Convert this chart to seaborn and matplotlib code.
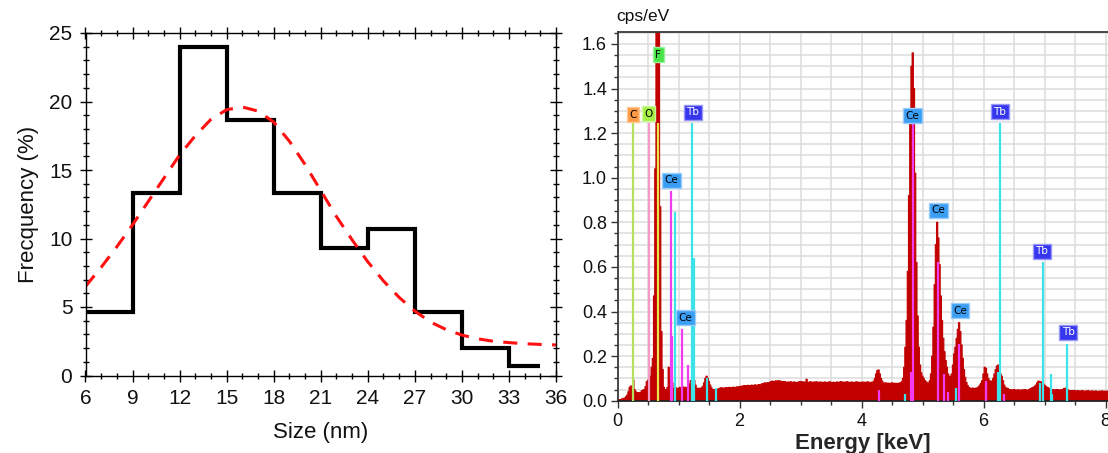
import numpy as np
import pandas as pd
import matplotlib
matplotlib.use("Agg")
import matplotlib.pyplot as plt
import seaborn as sns
from matplotlib.ticker import MultipleLocator, FormatStrFormatter

# ---------------- particle size distribution ----------------
bin_edges = [6, 9, 12, 15, 18, 21, 24, 27, 30, 33, 35]
frequency = [4.67, 13.33, 24.0, 18.67, 13.33, 9.33, 10.67, 4.67, 2.0, 0.67]

# fitted distribution curve, sampled every 1 nm
fit_size = [6, 7, 8, 9, 10, 11, 12, 13, 14, 15, 16, 17, 18, 19, 20, 21,
            22, 23, 24, 25, 26, 27, 28, 29, 30, 31, 32, 33, 34, 35, 36]
fit_freq = [6.5, 7.9, 9.4, 11.0, 12.7, 14.4, 16.1, 17.5, 18.7, 19.4, 19.6,
            19.3, 18.5, 17.1, 15.4, 13.5, 11.6, 9.9, 8.3, 6.9, 5.7, 4.7,
            3.9, 3.35, 2.95, 2.68, 2.5, 2.4, 2.32, 2.27, 2.23]

# ---------------- EDS spectrum (0.02 keV channels from 0 keV) ----------------
channel_width = 0.02
cps = [
    0.003, 0.004, 0.005, 0.006, 0.008, 0.010, 0.012, 0.018, 0.025, 0.040,
    0.060, 0.066, 0.062, 0.093, 0.050, 0.040, 0.035, 0.036, 0.034, 0.038,
    0.045, 0.047, 0.050, 0.063, 0.085, 0.092, 0.100, 0.110, 0.150, 0.190,
    0.470, 1.040, 2.500, 2.800, 1.800, 0.870, 0.310, 0.140, 0.060, 0.050,
    0.050, 0.060, 0.150, 0.110, 0.090, 0.080, 0.056, 0.055, 0.058, 0.052,
    0.055, 0.060, 0.052, 0.058, 0.062, 0.055, 0.060, 0.054, 0.065, 0.075,
    0.090, 0.092, 0.088, 0.090, 0.070, 0.056, 0.054, 0.056, 0.053, 0.058,
    0.065, 0.080, 0.100, 0.110, 0.100, 0.085, 0.070, 0.058, 0.050, 0.048,
    0.050, 0.052, 0.049, 0.054, 0.056, 0.058, 0.055, 0.057, 0.056, 0.059,
    0.057, 0.058, 0.060, 0.056, 0.059, 0.061, 0.058, 0.060, 0.062, 0.060,
    0.063, 0.065, 0.062, 0.066, 0.068, 0.065, 0.067, 0.069, 0.066, 0.068,
    0.070, 0.067, 0.069, 0.071, 0.068, 0.070, 0.072, 0.069, 0.074, 0.076,
    0.078, 0.080, 0.077, 0.081, 0.079, 0.083, 0.086, 0.088, 0.085, 0.087,
    0.089, 0.086, 0.090, 0.088, 0.087, 0.085, 0.084, 0.086, 0.083, 0.082,
    0.084, 0.082, 0.085, 0.081, 0.083, 0.084, 0.082, 0.080, 0.083, 0.085,
    0.083, 0.086, 0.082, 0.084, 0.081, 0.096, 0.083, 0.082, 0.085, 0.083,
    0.081, 0.084, 0.082, 0.085, 0.083, 0.080, 0.084, 0.082, 0.083, 0.081,
    0.084, 0.082, 0.080, 0.083, 0.085, 0.082, 0.081, 0.083, 0.080, 0.082,
    0.084, 0.081, 0.083, 0.086, 0.082, 0.084, 0.081, 0.083, 0.085, 0.082,
    0.083, 0.081, 0.084, 0.082, 0.080, 0.083, 0.085, 0.081, 0.083, 0.080,
    0.082, 0.084, 0.080, 0.083, 0.081, 0.085, 0.082, 0.080, 0.083, 0.081,
    0.088, 0.100, 0.120, 0.135, 0.138, 0.120, 0.100, 0.088, 0.080, 0.078,
    0.080, 0.077, 0.079, 0.076, 0.078, 0.080, 0.077, 0.079, 0.076, 0.078,
    0.077, 0.079, 0.080, 0.085, 0.100, 0.150, 0.240, 0.360, 0.580, 0.920,
    1.250, 1.500, 1.560, 1.400, 1.020, 0.620, 0.380, 0.240, 0.160, 0.125,
    0.110, 0.100, 0.090, 0.085, 0.080, 0.080, 0.090, 0.120, 0.200, 0.330,
    0.520, 0.700, 0.800, 0.730, 0.610, 0.470, 0.360, 0.280, 0.220, 0.180,
    0.150, 0.120, 0.110, 0.110, 0.120, 0.160, 0.210, 0.240, 0.280, 0.320,
    0.350, 0.310, 0.250, 0.190, 0.140, 0.105, 0.082, 0.068, 0.060, 0.056,
    0.055, 0.057, 0.054, 0.056, 0.055, 0.058, 0.062, 0.070, 0.078, 0.090,
    0.120, 0.150, 0.145, 0.120, 0.100, 0.090, 0.086, 0.088, 0.100, 0.120,
    0.140, 0.155, 0.160, 0.140, 0.120, 0.110, 0.090, 0.070, 0.060, 0.056,
    0.055, 0.050, 0.048, 0.049, 0.047, 0.050, 0.048, 0.046, 0.049, 0.047,
    0.048, 0.046, 0.049, 0.047, 0.050, 0.048, 0.046, 0.049, 0.052, 0.055,
    0.058, 0.060, 0.065, 0.070, 0.080, 0.088, 0.086, 0.085, 0.080, 0.075,
    0.070, 0.065, 0.060, 0.058, 0.055, 0.050, 0.048, 0.050, 0.047, 0.049,
    0.048, 0.050, 0.046, 0.049, 0.047, 0.050, 0.055, 0.056, 0.054, 0.050,
    0.046, 0.044, 0.045, 0.043, 0.046, 0.044, 0.042, 0.045, 0.043, 0.044,
    0.042, 0.045, 0.043, 0.041, 0.044, 0.042, 0.045, 0.043, 0.041, 0.044,
    0.043, 0.041, 0.044, 0.042, 0.040, 0.043, 0.041, 0.044, 0.042, 0.043,
    0.041, 0.043, 0.042,
]

# characteristic X-ray line markers: element, energy (keV), marker height (cps/eV)
line_element = ["C", "O", "F",
                "Ce", "Ce", "Ce", "Ce", "Ce", "Ce", "Ce", "Ce", "Ce", "Ce", "Ce", "Ce", "Ce",
                "Tb", "Tb", "Tb", "Tb", "Tb", "Tb", "Tb", "Tb", "Tb", "Tb", "Tb", "Tb", "Tb", "Tb"]
line_energy = [0.26, 0.515, 0.672,
               0.872, 0.893, 1.063, 1.15, 4.29, 4.806, 4.85, 5.254, 5.357, 5.41, 5.603, 6.04, 6.34,
               0.943, 1.221, 1.259, 1.46, 1.615, 4.72, 5.544, 6.24, 6.265, 6.93, 6.97, 7.10, 7.12, 7.37]
line_height = [1.245, 1.245, 1.245,
               0.94, 0.29, 0.322, 0.159, 0.048, 0.13, 1.245, 0.62, 0.12, 0.04, 0.255, 0.09, 0.03,
               0.845, 1.245, 0.64, 0.10, 0.056, 0.03, 0.057, 0.13, 1.245, 0.08, 0.62, 0.12, 0.03, 0.255]

# element tags: element, energy (keV), level (cps/eV)
tag_element = ["C", "O", "F", "Tb", "Ce", "Ce", "Ce", "Ce", "Ce", "Tb", "Tb", "Tb"]
tag_energy = [0.25, 0.505, 0.67, 1.233, 0.888, 1.112, 4.84, 5.26, 5.615, 6.27, 6.954, 7.39]
tag_level = [1.283, 1.287, 1.552, 1.293, 0.988, 0.371, 1.278, 0.855, 0.404, 1.295, 0.67, 0.307]

line_colors = {"C": "#B4E05C", "O": "#F59AC6", "F": "#E6E64A", "Ce": "#F23CF0", "Tb": "#3CE4EA"}
tag_face = {"C": "#FF9A45", "O": "#A6F046", "F": "#46E446", "Ce": "#3A9EF5", "Tb": "#3636EE"}
tag_edge = {"C": "#FFC896", "O": "#CFF89C", "F": "#9AF09A", "Ce": "#9CCDFA", "Tb": "#9A9AF6"}
tag_text = {"C": "black", "O": "black", "F": "black", "Ce": "black", "Tb": "white"}

# ---------------- figure ----------------
sns.set_theme(style="ticks")
plt.rcParams["font.family"] = ["Liberation Sans", "DejaVu Sans"]
plt.rcParams["axes.linewidth"] = 1.0

W, H = 1108, 453
fig = plt.figure(figsize=(W / 100, H / 100), dpi=100, facecolor="white")

# ---- left: size histogram ----
ax1 = fig.add_axes([85.5 / W, 1 - 375.5 / H, 470.5 / W, 342.5 / H])
sns.lineplot(x=bin_edges, y=frequency + [frequency[-1]], drawstyle="steps-post",
             color="black", linewidth=3.0, ax=ax1, solid_joinstyle="miter",
             solid_capstyle="butt")
sns.lineplot(x=fit_size, y=fit_freq, color="#FF1010", linewidth=2.2,
             linestyle=(0, (4.6, 3.4)), ax=ax1)
ax1.set_xlim(6, 36)
ax1.set_ylim(0, 25)
ax1.set_xticks(range(6, 37, 3))
ax1.set_yticks(range(0, 26, 5))
ax1.xaxis.set_minor_locator(MultipleLocator(1))
ax1.yaxis.set_minor_locator(MultipleLocator(1))
ax1.tick_params(which="both", direction="inout", top=True, right=True,
                color="black", width=1.0)
ax1.tick_params(which="major", length=9, labelsize=15, labelcolor="#111111")
ax1.tick_params(axis="x", which="major", pad=5.5)
ax1.tick_params(axis="y", which="major", pad=5)
ax1.tick_params(which="minor", length=5)
for sp in ax1.spines.values():
    sp.set_color("black")
    sp.set_linewidth(1.0)
ax1.set_xlabel("Size (nm)", fontsize=16, labelpad=10, color="#111111")
ax1.set_ylabel("Frecquency (%)", fontsize=16, labelpad=7, color="#111111")

# ---- right: EDS spectrum ----
ax2 = fig.add_axes([617.5 / W, 1 - 400.7 / H, (W - 617.5) / W, 369.0 / H])
spectrum = pd.DataFrame({"energy": np.arange(len(cps)) * channel_width, "cps": cps})
e_last = float(spectrum["energy"].iloc[-1])
sns.histplot(data=spectrum, x="energy", weights="cps", binwidth=channel_width,
             binrange=(-channel_width / 2, e_last + channel_width / 2),
             element="step", fill=True, color="#C20000", alpha=1.0,
             linewidth=0.8, edgecolor="#C20000", ax=ax2, zorder=2)

ax2.vlines(line_energy, 0, line_height,
           colors=[line_colors[e] for e in line_element], linewidth=1.6, zorder=3)

for el, x, y in zip(tag_element, tag_energy, tag_level):
    ax2.text(x, y, el, ha="center", va="center", fontsize=7.5, color=tag_text[el],
             family="DejaVu Sans", zorder=5,
             bbox=dict(boxstyle="square,pad=0.24", fc=tag_face[el], ec=tag_edge[el], lw=1.0))

ax2.set_xlim(0, (W - 617.5) / 61.0)
ax2.set_ylim(0, 1.655)
ax2.xaxis.set_major_locator(MultipleLocator(2))
ax2.xaxis.set_minor_locator(MultipleLocator(0.5))
ax2.yaxis.set_major_locator(MultipleLocator(0.2))
ax2.yaxis.set_minor_locator(MultipleLocator(0.05))
ax2.yaxis.set_major_formatter(FormatStrFormatter("%.1f"))
ax2.set_axisbelow(True)
ax2.grid(which="both", color="#DCDCDC", linewidth=1.1)
ax2.tick_params(which="both", direction="out", color="#333333", width=1.0,
                top=False, right=False)
ax2.tick_params(which="major", length=5, labelsize=13, labelcolor="#111111")
ax2.tick_params(axis="x", which="major", pad=4)
ax2.tick_params(axis="y", which="major", pad=2.5)
ax2.tick_params(which="minor", length=3)
ax2.spines["right"].set_visible(False)
ax2.spines["top"].set_color("#3A3A3A")
ax2.spines["left"].set_color("#3A3A3A")
ax2.spines["bottom"].set_color("#222222")
for sp in ax2.spines.values():
    sp.set_linewidth(1.3)
ax2.set_ylabel("")
ax2.set_xlabel("Energy [keV]", fontsize=16, fontweight="bold", labelpad=2)
fig.text(616 / W, 1 - 17 / H, "cps/eV", fontsize=12.5, ha="left", va="center",
         color="#111111")

fig.savefig("out.png", dpi=100, facecolor="white")
